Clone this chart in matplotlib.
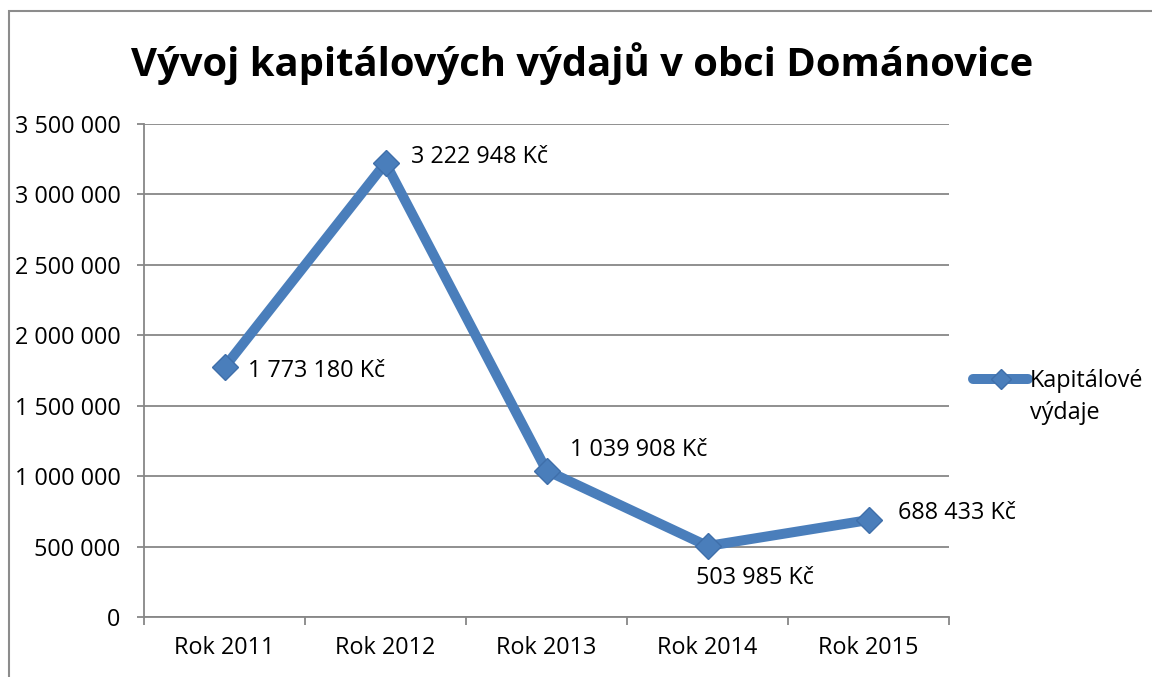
import matplotlib
matplotlib.use("Agg")
import matplotlib.pyplot as plt
from matplotlib.patches import Rectangle
from matplotlib.lines import Line2D

plt.rcParams['font.family'] = ['Open Sans', 'DejaVu Sans']

categories = ["Rok 2011", "Rok 2012", "Rok 2013", "Rok 2014", "Rok 2015"]
values = [1773180, 3222948, 1039908, 503985, 688433]
series_name = ["Kapitálové", "výdaje"]
title = "Vývoj kapitálových výdajů v obci Dománovice"
yticks = [0, 500000, 1000000, 1500000, 2000000, 2500000, 3000000, 3500000]

def fmt(v):
    return f"{v:,}".replace(",", " ")

# label offsets in points (dx, dy)
label_offsets = [(17, -3), (18, 4), (17, 15), (-8, -23), (21, 5)]

color = "#4A7EBB"
edge = "#3F6FAA"
grid_c = "#878787"
FS = 16.8

fig = plt.figure(figsize=(11.52, 6.77), dpi=100)
ax = fig.add_axes([0.125, 0.0886, 0.6988, 0.7282])

x = list(range(len(categories)))
ax.plot(x, values, color=color, lw=7.2, marker='D', markersize=13.5,
        markerfacecolor=color, markeredgecolor=edge, markeredgewidth=1,
        solid_capstyle='round', solid_joinstyle='round', zorder=3)

for xi, v, (dx, dy) in zip(x, values, label_offsets):
    ax.annotate(f"{fmt(v)} Kč", (xi, v), xytext=(dx, dy), textcoords='offset points',
                ha='left', va='center', fontsize=FS, color='black', zorder=4)

ax.set_xlim(-0.5, len(categories) - 0.5)
ax.set_ylim(0, 3500000)
ax.set_yticks(yticks)
ax.set_yticklabels([fmt(t) for t in yticks])
ax.set_xticks(x)
ax.set_xticklabels(categories)
ax.set_xticks([i - 0.5 for i in range(len(categories) + 1)], minor=True)

ax.tick_params(axis='x', which='major', length=0, pad=14, labelsize=FS)
ax.tick_params(axis='x', which='minor', length=6, width=1.3, color=grid_c, direction='out')
ax.tick_params(axis='y', which='major', length=5, width=1.3, color=grid_c, pad=12, labelsize=FS)

ax.grid(axis='y', color=grid_c, lw=1.3)
ax.set_axisbelow(True)
for s in ['top', 'right']:
    ax.spines[s].set_visible(False)
for s in ['left', 'bottom']:
    ax.spines[s].set_color(grid_c)
    ax.spines[s].set_linewidth(1.3)

fig.text(0.505, 0.906, title, ha='center', va='center', fontsize=28.8, fontweight='bold')

# legend (first line with handle, second line below)
handle = Line2D([0], [0], color=color, lw=7.2, marker='D', markersize=10,
                markerfacecolor=color, markeredgecolor=edge, solid_capstyle='round')
leg = fig.legend([handle], [series_name[0]], loc='center left', bbox_to_anchor=(0.845, 0.437),
                 frameon=False, fontsize=FS, handlelength=2.35, handletextpad=0.08,
                 borderpad=0, borderaxespad=0, labelspacing=0)
t0 = leg.get_texts()[0]
fig.canvas.draw()
ax.annotate(series_name[1], xy=(0, 0.5), xycoords=t0, xytext=(0, -23),
            textcoords='offset points', ha='left', va='center', fontsize=FS,
            annotation_clip=False)

# figure border (partially cropped)
fig.patches.append(Rectangle((9 / 1152, -0.1), 1.2, (677 - 11) / 677 + 0.1,
                             transform=fig.transFigure, fill=False,
                             edgecolor="#8C8C8C", lw=1.5, zorder=0))

fig.savefig("out.png", dpi=100)
